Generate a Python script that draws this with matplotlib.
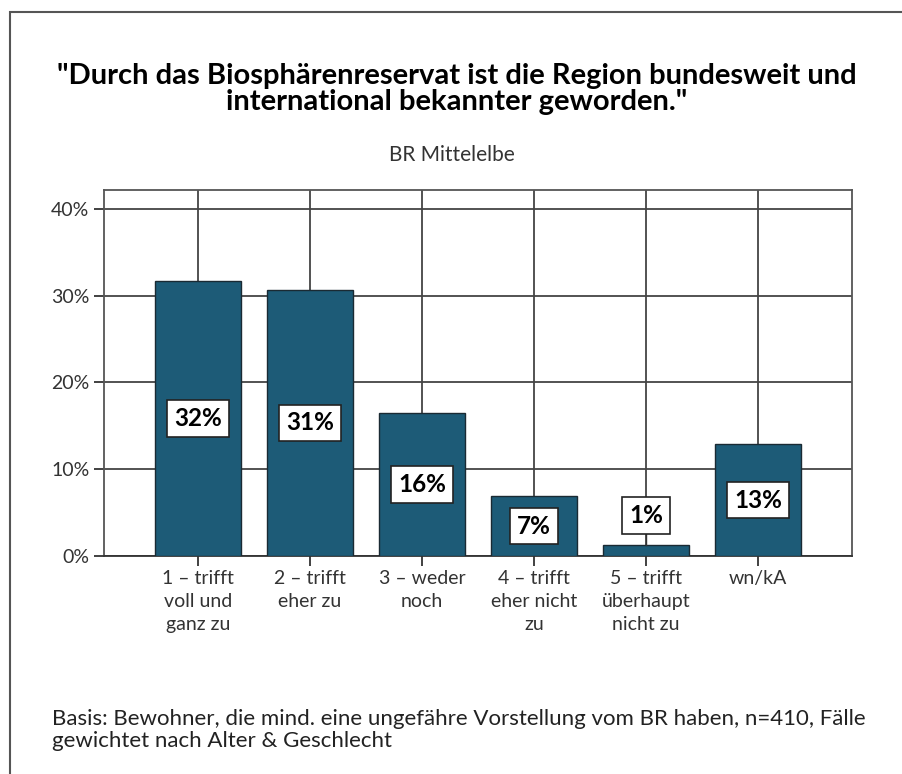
import matplotlib.pyplot as plt
from matplotlib.patches import Rectangle
import numpy as np

# data
categories = ['1 – trifft\nvoll und\nganz zu', '2 – trifft\neher zu', '3 – weder\nnoch',
              '4 – trifft\neher nicht\nzu', '5 – trifft\nüberhaupt\nnicht zu', 'wn/kA']
values = [31.7, 30.7, 16.5, 6.9, 1.3, 12.9]
value_labels = ['32%', '31%', '16%', '7%', '1%', '13%']
y_ticks = [0, 10, 20, 30, 40]

plt.rcParams['font.family'] = ['Lato', 'DejaVu Sans']

fig = plt.figure(figsize=(9.03, 7.74), dpi=100)
ax = fig.add_axes([0.1152, 0.2817, 0.8283, 0.4729])

# outer frame (left and top edges visible)
fig.patches.append(Rectangle((10 / 903, -0.1), 1.2, 1.1 - 12 / 774,
                             transform=fig.transFigure, fill=False,
                             edgecolor='#555555', linewidth=1.5))

x = np.arange(len(categories))
bar_color = '#1d5b77'
ax.bar(x, values, width=0.77, color=bar_color, edgecolor='#1a2a33', linewidth=1.0, zorder=3)

ax.set_xlim(-0.84, len(categories) - 0.16)
ax.set_ylim(0, 42.2)
ax.set_yticks(y_ticks)
ax.set_yticklabels([f'{t}%' for t in y_ticks])
ax.set_xticks(x)
ax.set_xticklabels(categories, linespacing=1.45)

ax.grid(True, color='#444444', linewidth=1.3, zorder=0)
ax.set_axisbelow(True)
for s in ax.spines.values():
    s.set_color('#555555')
    s.set_linewidth(1.3)
ax.spines['bottom'].set_color('#333333')
ax.tick_params(axis='both', direction='out', length=7, width=1.3, color='#333333',
               labelcolor='#333333')
ax.tick_params(axis='y', labelsize=14)
ax.tick_params(axis='x', pad=3, labelsize=14)

# value labels
for xi, v, lab in zip(x, values, value_labels):
    ypos = v / 2
    if v < 3:
        ypos = 4.7
        ax.plot([xi, xi], [v, ypos], color='#333333', lw=1.0, zorder=4)
    ax.text(xi, ypos, lab, ha='center', va='center', fontsize=17.5, fontweight='bold',
            color='black', zorder=5,
            bbox=dict(boxstyle='square,pad=0.28', facecolor='white', edgecolor='#222222', linewidth=1.2))

fig.text(0.506, 0.885, '"Durch das Biosphärenreservat ist die Region bundesweit und\ninternational bekannter geworden."',
         ha='center', va='center', fontsize=21, fontweight='bold', linespacing=1.0)
fig.text(0.5, 0.80, 'BR Mittelelbe', ha='center', va='center', fontsize=15, color='#333333')
fig.text(0.058, 0.030, 'Basis: Bewohner, die mind. eine ungefähre Vorstellung vom BR haben, n=410, Fälle\ngewichtet nach Alter & Geschlecht',
         ha='left', va='bottom', fontsize=16, color='#222222', linespacing=1.1)

fig.savefig('out.png', dpi=100)
